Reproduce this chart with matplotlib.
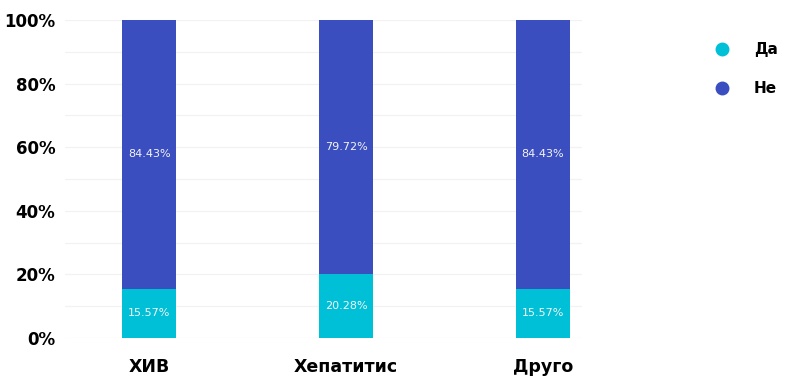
import matplotlib
matplotlib.use("Agg")
import matplotlib.pyplot as plt
from matplotlib.ticker import MultipleLocator, FuncFormatter
from matplotlib.lines import Line2D

categories = ["ХИВ", "Хепатитис", "Друго"]
da = [15.57, 20.28, 15.57]
ne = [84.43, 79.72, 84.43]
series_names = ["Да", "Не"]
colors = ["#00C0D8", "#3B4EC0"]

fig = plt.figure(figsize=(7.91, 3.82), dpi=100)
ax = fig.add_axes([0.082, 0.115, 0.654, 0.833])

x = list(range(len(categories)))
w = 0.275
ax.bar(x, da, width=w, color=colors[0], zorder=3)
ax.bar(x, ne, width=w, bottom=da, color=colors[1], zorder=3)

for i in x:
    ax.text(i, da[i] / 2, f"{da[i]:.2f}%", ha="center", va="center",
            color="#F4F4F4", fontsize=8, zorder=4)
    ax.text(i, da[i] + ne[i] / 2, f"{ne[i]:.2f}%", ha="center", va="center",
            color="#F4F4F4", fontsize=8, zorder=4)

ax.set_xlim(-0.43, 2.2)
ax.set_ylim(0, 100)
ax.yaxis.set_major_locator(MultipleLocator(20))
ax.yaxis.set_minor_locator(MultipleLocator(10))
ax.yaxis.set_major_formatter(FuncFormatter(lambda v, p: f"{int(v)}%"))
ax.grid(axis="y", which="both", color="#F2F2F2", linewidth=0.9, zorder=0)
for s in ax.spines.values():
    s.set_visible(False)
ax.tick_params(axis="both", which="both", length=0)
ax.tick_params(axis="y", pad=7)
ax.tick_params(axis="x", pad=14)
ax.set_xticks(x)
ax.set_xticklabels(categories)
for lab in ax.get_yticklabels() + ax.get_xticklabels():
    lab.set_fontweight("bold")
    lab.set_fontsize(12.5)
    lab.set_color("black")
for lab in ax.get_yticklabels():
    lab.set_fontsize(12)

handles = [Line2D([0], [0], marker="o", linestyle="", markersize=9,
                  markerfacecolor=c, markeredgecolor=c) for c in colors]
leg = fig.legend(handles, series_names, loc="upper left",
                 bbox_to_anchor=(0.876, 0.925), frameon=False,
                 prop={"weight": "bold", "size": 11}, labelspacing=1.55,
                 handletextpad=1.1)

fig.savefig("out.png", dpi=100)
